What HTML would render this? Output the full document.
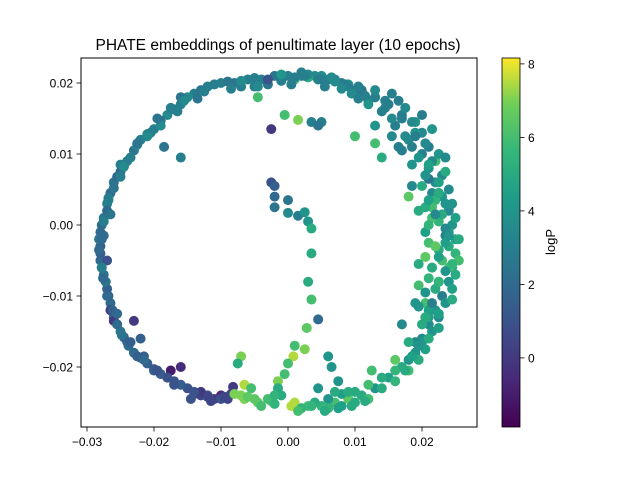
<!DOCTYPE html>
<html><head><meta charset="utf-8"><style>
body{margin:0;background:#fff}
text{font-family:"Liberation Sans",sans-serif;fill:#000}
</style></head><body>
<svg id="chart" width="640" height="480">
<defs><linearGradient id="vir" x1="0" y1="1" x2="0" y2="0">
<stop offset="0" stop-color="#440154"/><stop offset="0.125" stop-color="#482878"/><stop offset="0.25" stop-color="#3e4a89"/><stop offset="0.375" stop-color="#31688e"/><stop offset="0.5" stop-color="#26828e"/><stop offset="0.625" stop-color="#1f9e89"/><stop offset="0.75" stop-color="#35b779"/><stop offset="0.875" stop-color="#6ece58"/><stop offset="1" stop-color="#fde725"/></linearGradient></defs>
<text x="278" y="50" font-size="15.5" text-anchor="middle">PHATE embeddings of penultimate layer (10 epochs)</text>
<g id="pts"></g>
<rect x="81" y="58" width="396" height="369" fill="none" stroke="#000" stroke-width="1"/>
<g id="xt"></g>
<g id="yt"></g>
<rect x="502" y="58" width="18" height="369" fill="url(#vir)" stroke="#000" stroke-width="0.8"/>
<g id="ct"></g>
<text transform="translate(555,242) rotate(-90)" font-size="13" text-anchor="middle">logP</text>
</svg>
<script>
const xTicks=[-0.03,-0.02,-0.01,0.00,0.01,0.02];
const xTickLabels=["−0.03","−0.02","−0.01","0.00","0.01","0.02"];
const yTicks=[0.02,0.01,0.00,-0.01,-0.02];
const yTickLabels=["0.02","0.01","0.00","−0.01","−0.02"];
const cTicks=[0,2,4,6,8];
const cMin=-1.88, cMax=8.16;
const ptX=[-0.012,-0.014,-0.016,-0.018,-0.02,-0.022,-0.023,-0.024,-0.025,-0.026,-0.0265,-0.027,-0.0275,-0.028,-0.028,-0.028,-0.0275,-0.027,-0.0265,-0.026,-0.025,-0.024,-0.023,-0.021,-0.019,-0.017,-0.015,-0.013,-0.011,-0.009,
-0.013,-0.015,-0.017,-0.019,-0.021,-0.0225,-0.0245,-0.0255,-0.0268,-0.0278,-0.0282,-0.0278,-0.0268,-0.0255,-0.0245,-0.022,-0.020,-0.018,-0.014,-0.012,
-0.023,-0.016,-0.0175,-0.013,-0.010,-0.0215,-0.0265,
-0.007,-0.005,-0.003,-0.001,0.001,0.003,0.005,0.007,0.009,0.011,0.013,0.015,0.017,0.019,0.020,0.021,0.022,0.023,0.024,0.0245,0.025,0.025,0.0245,0.024,0.023,0.022,0.021,0.020,0.018,0.016,0.014,0.012,0.010,0.008,0.006,0.004,0.002,0,-0.002,-0.004,-0.006,-0.008,-0.010,
0.006,0.008,0.010,0.012,0.014,0.016,0.018,0.020,0.021,0.022,0.023,0.024,0.0235,0.023,0.022,0.021,0.020,0.019,0.017,0.015,0.013,0.011,0.009,0.007,0.005,0.003,0.001,-0.001,-0.003,-0.005,-0.007,
0.0195,0.0205,0.0215,0.0225,0.0205,0.0215,0.0225,0.0195,0.021,0.0225,0.0235,0.020,0.021,0.0185,0.019,
0.020,0.0215,0.021,0.0205,0.022,0.018,0.010,0.013,0.014,0.013,0.005,
-0.0025,0.0035,0.0045,-0.0005,0.0015,-0.0025,-0.002,-0.002,-0.002,0,0,0.0015,0.0025,0.003,0.0035,0.0035,0.003,0.0035,0.0028,0.0045,0.0025,0.001,0.0008,0,-0.0005,-0.0015,-0.0015,0.006,0.0065,0.0075,0.009,0.007,-0.007,-0.0075,-0.0065,-0.0055,0.0005,0.0045,
-0.016,-0.0185,-0.0045,-0.016,0.017,0.022,0.0125,0.016,0.018,0.017,0.019,-0.026,-0.022,0.024,0.022,-0.025,-0.027,
-0.011,-0.009,-0.007,-0.005,-0.003,-0.001,0.001,0.003,0.005,0.007,0.009,0.011,-0.0085,-0.0045,0.0005,0.0055,0.0095,
-0.0125,-0.0135,-0.0155,-0.0165,-0.0175,-0.019,-0.0195,-0.0205,-0.021,-0.0225,-0.0235,-0.0245,-0.025,-0.026,-0.0268,-0.027,-0.0275,
-0.0278,-0.028,-0.0278,-0.0272,-0.027,-0.0262,-0.0255,-0.0248,-0.0238,-0.0225,-0.0215,-0.02,-0.018,-0.016,-0.014,-0.012,-0.010,-0.0085,-0.0082,
-0.0065,-0.0045,-0.0025,-0.002,0.002,0.004,0.006,0.008,0.01,0.012,0.014,0.016,0.018,0.0195,0.0205,
0.0215,0.0225,0.0205,0.0235,0.0215,0.0245,0.0225,0.0205,0.025,0.0235,0.0215,0.0255,0.024,0.0225,0.0255,0.0235,0.021,0.025,0.023,0.0245,0.0215,0.024,0.0225,0.0205,0.0235,0.0215,0.0195,0.0225,0.0205,0.0185,0.019,0.0175,0.017,0.0155,0.0145,0.013,0.012,0.0105,0.0155,0.0165,
0.0225,0.0245,0.0195,0.021,0.0235,0.0195,0.022,0.024,0.0205,0.0225,0.0185,0.021,0.0235,0.019,0.0215,0.0185,0.02,0.0175,0.0165,0.0155,0.0145,0.013,0.0115,0.0105,0.0085,0.0065,0.0045,0.0025,0.002,0.008,0.0175,0.0185,0.0195,0.021,0.0225,0.0245,0.0225,0.021,-0.008,-0.006,-0.004,-0.002,0.0015,0.0035,0.0055,0.0075,0.0095,0.0115,-0.0265,-0.0275,-0.0282,-0.0276,-0.0255,-0.0235,-0.0195,-0.017,-0.0145,-0.0115,-0.0095];
const ptY=[0.0195,0.0185,0.017,0.0155,0.0135,0.012,0.0105,0.009,0.0075,0.006,0.0045,0.003,0.001,-0.001,-0.003,-0.005,-0.007,-0.009,-0.011,-0.013,-0.015,-0.0165,-0.018,-0.0195,-0.021,-0.022,-0.023,-0.024,-0.0245,-0.0245,
0.019,0.018,0.0163,0.0147,0.0128,0.0113,0.0083,0.0068,0.0038,0.0,-0.002,-0.006,-0.010,-0.014,-0.0158,-0.0187,-0.0203,-0.0215,-0.0238,-0.024,
-0.0135,-0.020,-0.0205,-0.0235,-0.024,-0.0185,-0.012,
-0.024,-0.0245,-0.0245,-0.024,-0.025,-0.0255,-0.0255,-0.025,-0.0245,-0.024,-0.023,-0.0215,-0.020,-0.018,-0.016,-0.014,-0.012,-0.010,-0.008,-0.006,-0.004,-0.002,0,0.002,0.004,0.006,0.008,0.010,0.012,0.014,0.016,0.0175,0.019,0.020,0.0205,0.021,0.021,0.021,0.021,0.0205,0.0205,0.020,0.020,
-0.0245,-0.0238,-0.0235,-0.0225,-0.0215,-0.0205,-0.019,-0.0165,-0.013,-0.009,-0.005,-0.001,0.003,0.007,0.009,0.011,0.013,0.0145,0.0155,0.017,0.018,0.019,0.0198,0.0205,0.021,0.0208,0.0205,0.0203,0.0198,0.0195,0.0195,
0.002,-0.001,-0.006,-0.008,-0.011,0.0045,-0.0035,-0.0085,-0.012,0.0005,-0.0015,-0.014,0.0065,0.0085,-0.0165,
0.0055,0.001,-0.0025,-0.0045,0.0035,0.004,0.0125,0.0115,0.0095,0.014,0.0145,
0.0135,0.0145,0.014,0.0155,0.0148,0.006,0.0055,0.004,0.0025,0.0035,0.0017,0.0013,0.0018,0.0005,-0.0005,-0.004,-0.008,-0.0105,-0.0145,-0.0133,-0.0175,-0.017,-0.0185,-0.0195,-0.021,-0.022,-0.023,-0.0185,-0.02,-0.022,-0.0235,-0.0235,-0.0185,-0.0195,-0.0225,-0.023,-0.0255,-0.023,
0.0095,0.011,0.018,0.018,0.0105,0.009,-0.0205,-0.019,-0.0165,-0.014,-0.011,-0.0135,-0.016,-0.006,-0.003,0.0085,-0.005,
0.0198,0.0202,0.0203,0.0207,0.0205,0.0212,0.0208,0.0212,0.0205,0.0202,0.0195,0.0188,0.0192,0.0195,0.0198,0.0195,0.0185,
0.0188,0.0178,0.0175,0.016,0.0165,0.014,0.015,0.013,0.0125,0.0115,0.0095,0.0082,0.0068,0.0052,0.0035,0.002,0.0005,
-0.002,-0.004,-0.006,-0.008,-0.010,-0.012,-0.014,-0.0155,-0.017,-0.0185,-0.019,-0.0205,-0.0215,-0.0225,-0.0235,-0.0242,-0.0245,-0.0238,-0.0228,
-0.0245,-0.025,-0.0248,-0.024,-0.0258,-0.025,-0.0258,-0.0255,-0.025,-0.0245,-0.023,-0.022,-0.0205,-0.019,-0.0175,
-0.015,-0.013,-0.013,-0.011,-0.011,-0.009,-0.008,-0.0095,-0.007,-0.0065,-0.006,-0.005,-0.003,-0.0045,-0.002,-0.0005,0,0.001,0.0015,0.003,0.0025,0.005,0.006,0.007,0.0075,0.009,0.0095,0.010,0.0115,0.011,0.013,0.0125,0.015,0.015,0.0165,0.018,0.017,0.0178,0.0125,0.011,
-0.0145,-0.0105,-0.0115,-0.0075,-0.0025,-0.0055,0.0015,-0.0015,0.0025,0.0045,0.0055,0.0085,0.0095,0.0125,0.0135,0.0145,0.0155,0.0165,0.0175,0.0185,0.0175,0.019,0.0182,0.0195,0.0198,0.0208,0.0205,0.021,0.0215,0.0192,-0.0205,-0.0185,-0.017,-0.016,-0.0125,-0.0055,0.0045,0.0035,-0.0238,-0.0242,-0.0255,-0.0252,-0.0262,-0.0255,-0.0262,-0.0258,-0.0255,-0.0248,0.0015,-0.0015,-0.0035,-0.0075,-0.0125,-0.0165,-0.0205,-0.0225,-0.0245,-0.0248,-0.0242];
const ptC=[3,3,3,3.5,3,3,2.5,3,2,2.5,2,3,2.5,2,1.5,2,2.5,1.5,2,2,2.5,2,2,1.5,1.5,1,1,0.5,0,0.5,
2.5,3.5,3,2.5,3,3.5,2.5,2,3,2,2.5,2,1.5,2,1.5,1.5,1,0.5,0.5,1,
0,-0.5,-1,0,-0.5,1.5,0,
7,6.5,6,5,7.5,6,5.5,6,6.5,5,4,4.5,5,4,3.5,3.5,4,3,4,5,5.5,4.5,4,3.5,4,3.5,4,3,3.5,3,3,3.5,3,3,3,3.5,3,3,2.5,3,3,2.5,3,
4,4.5,5,6,5,5.5,4,4,4.5,5,6,4.5,4,3.5,4,3,3.5,4,3,3,3.5,3,4,3,3.5,5,6,3,2.5,3,3,
5,4.5,5.5,4,6,3.5,5,6,4.5,5.5,3,5,2.5,4,3.5,
5,6,6,6.5,5.5,6.5,6,6,5,4,3,
0,3,2.5,6,7,1,1.5,2,2.5,2.5,3.5,3,4,4,5,5,5,6,6.5,2,7,6,7.5,6,6,7,5,4,4,4,5,5,7,5,7.5,6,7.5,4,
3,2.5,6,2.5,3,6,6,6.5,5,3.5,4,0,1.5,6,6.5,3,1,
3,2.5,3.5,3,1,4,3,3.5,3,3.5,3,2.5,3,3.5,3,3,3.5,
3,2.5,3.5,3,3,3.5,2.5,3,3.5,2.5,3,3.5,3,2.5,3,2,3,
2,1.5,3,2.5,2,1.5,2,2.5,2,1.5,2,1.5,1,1.5,1,0.5,1,0.5,0,
7,6.5,6,5.5,5.5,5,5.5,4.5,5,6,5,5.5,6,5,4.5,
4,3.5,5,4,3,4.5,5.5,4,5,4,5,6,5,4.5,5,3.5,5.5,4.5,5,4,6,3.5,4.5,4,5,3.5,4,4,3.5,3,4,3.5,3,3.5,3,3,4,3,3.5,3,
4.5,5,4,5.5,4.5,5,3.5,4,5,4,3.5,4.5,3.5,3,4,3.5,3,3.5,3,3,3,3.5,3,3,3,3.5,3,3,3,3.5,5,4.5,4,5,4.5,5.5,5,4.5,7,6.5,6,5.5,6,5.5,5,4.5,5,5,2.5,2,2,2,2,1.5,1,1,1,0.5,0.5];
const sx=v=>288+v*6700, sy=v=>225-v*7100;
const cy=v=>58+(cMax-v)/(cMax-cMin)*369;
const vir=[[68,1,84],[72,40,120],[62,74,137],[49,104,142],[38,130,142],[31,158,137],[53,183,121],[110,206,88],[253,231,37]];
function col(v){let t=(v-cMin)/(cMax-cMin);t=Math.max(0,Math.min(1,t))*8;const i=Math.min(7,Math.floor(t)),f=t-i;const a=vir[i],b=vir[i+1];return `rgb(${a.map((c,k)=>Math.round(c+(b[k]-c)*f)).join(',')})`;}
const NS='http://www.w3.org/2000/svg';
function mk(tag,attrs,parent){const e=document.createElementNS(NS,tag);for(const k in attrs)e.setAttribute(k,attrs[k]);parent.appendChild(e);return e;}
const g=document.getElementById('pts');
for(let i=0;i<ptX.length;i++){
const c=mk('circle',{cx:sx(ptX[i]),cy:sy(ptY[i]),r:5,fill:col(ptC[i])},g);


}
const xt=document.getElementById('xt');
xTicks.forEach((v,i)=>{const x=sx(v);
mk('line',{x1:x,x2:x,y1:427,y2:431.5,stroke:'#000','stroke-width':0.8},xt);
const t=mk('text',{x:x,y:446,'font-size':12,'text-anchor':'middle'},xt);t.textContent=xTickLabels[i];

});
const yt=document.getElementById('yt');
yTicks.forEach((v,i)=>{const y=sy(v);
mk('line',{x1:81,x2:76.5,y1:y,y2:y,stroke:'#000','stroke-width':0.8},yt);
const t=mk('text',{x:73,y:y+4.5,'font-size':12,'text-anchor':'end'},yt);t.textContent=yTickLabels[i];

});
const ct=document.getElementById('ct');
cTicks.forEach(v=>{const y=cy(v);
mk('line',{x1:520,x2:524.5,y1:y,y2:y,stroke:'#000','stroke-width':0.8},ct);
const t=mk('text',{x:528,y:y+4.5,'font-size':12},ct);t.textContent=String(v);

});
</script>
</body></html>
